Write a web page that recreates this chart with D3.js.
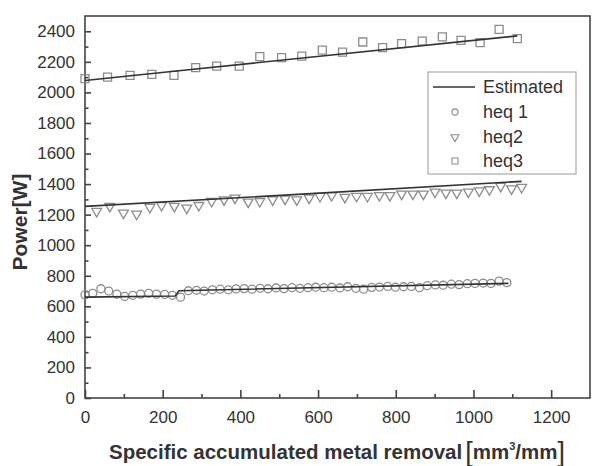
<!DOCTYPE html>
<html>
<head>
<meta charset="utf-8">
<script src="https://cdn.jsdelivr.net/npm/d3@7"></script>
<style>
body { margin: 0; background: #fff; }
text { font-family: "Liberation Sans", Arial, sans-serif; fill: #333; }
</style>
</head>
<body>
<div id="chart"></div>
<script>
var heq1X = [0, 20, 41, 61, 82, 102, 123, 143, 164, 184, 205, 225, 246, 266, 287, 307, 328, 348, 369, 389,
    410, 430, 451, 471, 492, 512, 533, 553, 574, 594, 615, 635, 656, 676, 697, 717, 738, 758, 779, 799,
    820, 840, 861, 881, 902, 922, 943, 963, 984, 1004, 1025, 1045, 1066, 1086];
var heq1Y = [675, 685, 715, 700, 680, 665, 672, 680, 685, 680, 678, 672, 660, 702, 705, 700, 708, 712, 708, 714,
    716, 712, 718, 715, 720, 716, 722, 718, 722, 725, 722, 725, 720, 728, 718, 712, 724, 726, 730, 725,
    728, 730, 722, 735, 740, 738, 745, 742, 748, 750, 752, 750, 765, 755];

var heq2X = [30, 64, 99, 133, 167, 197, 230, 262, 293, 326, 358, 386, 420, 450, 483, 515, 545, 577, 605, 635,
    669, 699, 727, 758, 785, 815, 844, 871, 901, 929, 957, 987, 1015, 1041, 1070, 1098, 1124];
var heq2Y = [1222, 1255, 1211, 1204, 1248, 1261, 1255, 1244, 1261, 1287, 1298, 1309, 1283, 1287, 1298, 1303, 1298, 1309, 1320, 1326,
    1314, 1320, 1320, 1326, 1326, 1335, 1335, 1335, 1349, 1342, 1342, 1349, 1357, 1364, 1386, 1370, 1379];

var heq3X = [0, 58, 116, 172, 229, 285, 339, 397, 450, 506, 558, 611, 663, 715, 766, 815, 868, 920, 968, 1017, 1066, 1113];
var heq3Y = [2090, 2100, 2111, 2118, 2111, 2162, 2172, 2172, 2234, 2228, 2238, 2277, 2264, 2330, 2293, 2319, 2336, 2363, 2341, 2326, 2413, 2352];

// estimated curves
var est1X = [0, 232, 242, 1090];
var est1Y = [660, 668, 702, 750];
var est2X = [0, 560, 1124];
var est2Y = [1254, 1334, 1418];
var est3X = [0, 229, 560, 1113];
var est3Y = [2078, 2138, 2225, 2370];

var legendNames = ["Estimated", "heq 1", "heq2", "heq3"];

var W = 599, H = 466;
var margin = { top: 16, right: 9, bottom: 68, left: 85 },
    width = W - margin.left - margin.right,
    height = H - margin.top - margin.bottom;

var svg = d3.select("#chart")
    .append("svg")
    .attr("width", W)
    .attr("height", H);

var g = svg.append("g")
    .attr("transform", "translate(" + margin.left + "," + margin.top + ")");

var x = d3.scaleLinear().domain([0, 1300]).range([0, width]);
var y = d3.scaleLinear().domain([0, 2500]).range([height, 0]);

var axisColor = "#444";

// frame
g.append("rect")
    .attr("width", width)
    .attr("height", height)
    .attr("fill", "none")
    .attr("stroke", axisColor)
    .attr("stroke-width", 1.6);

// x axis, ticks pointing inward
g.append("g")
    .attr("transform", "translate(0," + height + ")")
    .call(d3.axisBottom(x).tickValues(d3.range(0, 1201, 200)).tickFormat(d3.format("d"))
        .tickSizeInner(-8).tickSizeOuter(0).tickPadding(13));
g.append("g")
    .attr("transform", "translate(0," + height + ")")
    .call(d3.axisBottom(x).tickValues(d3.range(100, 1201, 200)).tickSizeInner(-4).tickSizeOuter(0).tickFormat(""));

g.append("g")
    .call(d3.axisLeft(y).tickValues(d3.range(0, 2401, 200)).tickFormat(d3.format("d"))
        .tickSizeInner(-6).tickSizeOuter(0).tickPadding(10));
g.append("g")
    .call(d3.axisLeft(y).tickValues(d3.range(100, 2401, 200)).tickSizeInner(-3.5).tickSizeOuter(0).tickFormat(""));

g.selectAll(".domain").remove();
g.selectAll(".tick line").attr("stroke", axisColor).attr("stroke-width", 1.6);
g.selectAll(".tick text")
    .style("font-family", "'Liberation Sans', Arial, sans-serif")
    .style("font-size", "17px")
    .attr("fill", "#333");

// markers
var markerColor = "#8c8c8c";
function drawMarkers(xs, ys, type, size, rot) {
    var sym = d3.symbol().type(type).size(size);
    g.append("g").selectAll("path")
        .data(xs.map(function (d, i) { return [d, ys[i]]; }))
        .enter()
        .append("path")
        .attr("d", sym)
        .attr("transform", function (d) {
            return "translate(" + x(d[0]) + "," + y(d[1]) + ") rotate(" + rot + ")";
        })
        .attr("fill", "none")
        .attr("stroke", markerColor)
        .attr("stroke-width", 1.3);
}
drawMarkers(heq1X, heq1Y, d3.symbolCircle, 50, 0);
drawMarkers(heq2X, heq2Y, d3.symbolTriangle, 42, 180);
drawMarkers(heq3X, heq3Y, d3.symbolSquare, 64, 0);

// estimated lines
var line = d3.line()
    .x(function (d) { return x(d[0]); })
    .y(function (d) { return y(d[1]); });
[[est1X, est1Y], [est2X, est2Y], [est3X, est3Y]].forEach(function (s) {
    g.append("path")
        .datum(s[0].map(function (d, i) { return [d, s[1][i]]; }))
        .attr("d", line)
        .attr("fill", "none")
        .attr("stroke", "#333")
        .attr("stroke-width", 1.6);
});

// legend
var lg = svg.append("g").attr("transform", "translate(428,72)");
lg.append("rect")
    .attr("width", 148)
    .attr("height", 102)
    .attr("fill", "#fff")
    .attr("stroke", "#999")
    .attr("stroke-width", 1);
var rowY = [15, 40, 65, 89];
lg.append("line")
    .attr("x1", 5).attr("x2", 47)
    .attr("y1", rowY[0]).attr("y2", rowY[0])
    .attr("stroke", "#333").attr("stroke-width", 1.6);
var legSyms = [null, [d3.symbolCircle, 30, 0], [d3.symbolTriangle, 28, 180], [d3.symbolSquare, 36, 0]];
legSyms.forEach(function (s, i) {
    if (!s) return;
    lg.append("path")
        .attr("d", d3.symbol().type(s[0]).size(s[1]))
        .attr("transform", "translate(27," + rowY[i] + ") rotate(" + s[2] + ")")
        .attr("fill", "none")
        .attr("stroke", markerColor)
        .attr("stroke-width", 1.1);
});
lg.selectAll("text.leg")
    .data(legendNames)
    .enter()
    .append("text")
    .attr("class", "leg")
    .attr("x", 55)
    .attr("y", function (d, i) { return rowY[i]; })
    .attr("dy", "0.35em")
    .style("font-size", "18px")
    .text(function (d) { return d; });

// y axis title
svg.append("text")
    .attr("transform", "translate(27," + (margin.top + height / 2 + 15) + ") rotate(-90)")
    .attr("text-anchor", "middle")
    .style("font-size", "21px")
    .style("font-weight", "bold")
    .text("Power[W]");

// x axis title
var xt = svg.append("text")
    .attr("x", 337)
    .attr("y", 459)
    .attr("text-anchor", "middle")
    .style("font-size", "20.5px")
    .style("font-weight", "bold");
xt.append("tspan").text("Specific accumulated metal removal");
xt.append("tspan").attr("dx", 3).style("font-weight", "normal").style("font-size", "27px").attr("dy", 2).text("[");
xt.append("tspan").attr("dy", -2).text("mm");
xt.append("tspan").style("font-size", "11px").attr("dy", -9).text("3");
xt.append("tspan").attr("dy", 9).text("/mm");
xt.append("tspan").style("font-weight", "normal").style("font-size", "27px").attr("dy", 2).text("]");
</script>
</body>
</html>
